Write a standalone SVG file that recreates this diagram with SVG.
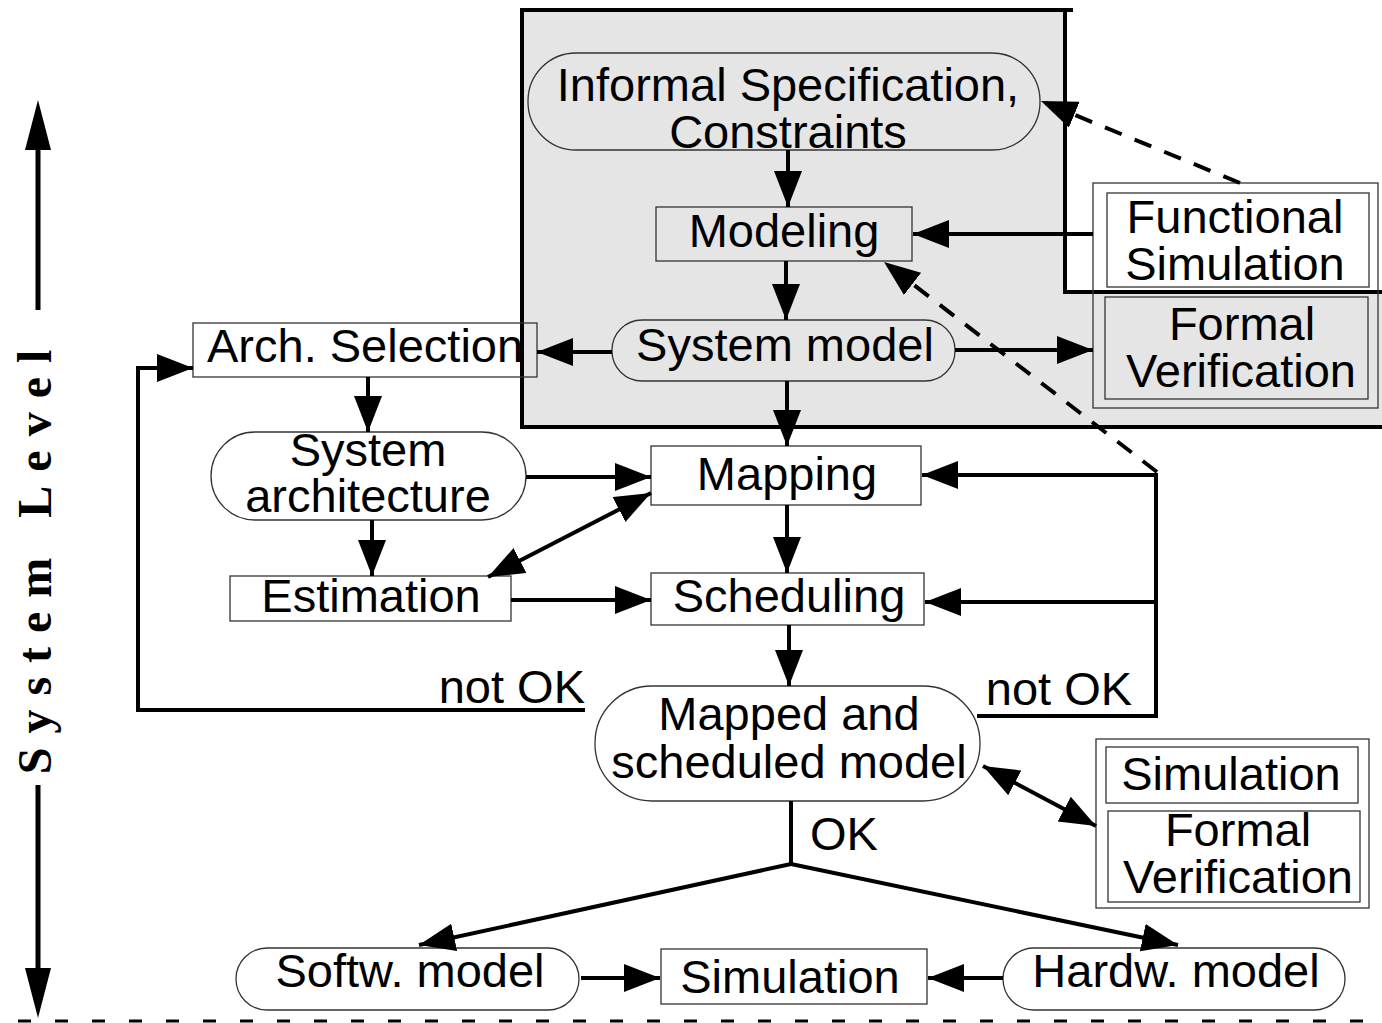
<svg xmlns="http://www.w3.org/2000/svg" width="1382" height="1023" viewBox="0 0 1382 1023">
<style>
.t{font-family:"Liberation Sans",Arial,sans-serif;font-size:47px;fill:#000;text-anchor:middle}
.box{fill:#fff;stroke:#333;stroke-width:1.3}
.gbox{fill:#e5e5e5;stroke:#333;stroke-width:1.3}
.nf{fill:none;stroke:#333;stroke-width:1.3}
.c{fill:none;stroke:#000;stroke-width:4}
.ca{fill:none;stroke:#000;stroke-width:4;marker-end:url(#ah)}
.cd{fill:none;stroke:#000;stroke-width:4;stroke-dasharray:18 14;marker-end:url(#ah)}
.cb{fill:none;stroke:#000;stroke-width:4;marker-end:url(#ah);marker-start:url(#ahs)}
</style>
<defs>
<marker id="ah" markerUnits="userSpaceOnUse" markerWidth="40" markerHeight="30" refX="36" refY="14" orient="auto"><path d="M0,0 L36,14 L0,28 z" fill="#000"/></marker>
<marker id="ahs" markerUnits="userSpaceOnUse" markerWidth="40" markerHeight="30" refX="36" refY="14" orient="auto-start-reverse"><path d="M0,0 L36,14 L0,28 z" fill="#000"/></marker>
</defs>
<rect width="1382" height="1023" fill="#fff"/>
<g id="system-region">
<path d="M522,10 H1065 V292 H1382 V427 H522 Z" fill="#e5e5e5"/>
<path d="M1073,10 H522 V427 H1382" class="c" stroke-width="5"/>
<path d="M1065,10 V292 H1382" class="c" stroke-width="5"/>
</g>
<g id="axis">
<line x1="38" y1="140" x2="38" y2="310" stroke="#000" stroke-width="5"/>
<path d="M25,150 L38,100 L51,150 z" fill="#000"/>
<line x1="38" y1="785" x2="38" y2="975" stroke="#000" stroke-width="5"/>
<path d="M25,968 L38,1018 L51,968 z" fill="#000"/>
<text transform="translate(51,555) rotate(-90)" font-family="'Liberation Serif','Times New Roman',serif" font-weight="bold" font-size="48" text-anchor="middle" letter-spacing="14">System Level</text>
</g>
<line id="level-boundary" x1="18" y1="1021" x2="1382" y2="1021" stroke="#000" stroke-width="3" stroke-dasharray="13 24"/>
<g id="n-informal">
<rect x="528" y="53" width="512" height="97" rx="48" class="gbox"/>
<text x="788" y="101" class="t">Informal Specification,</text>
<text x="788" y="148" class="t">Constraints</text>
</g>
<g id="n-modeling">
<rect x="656" y="207" width="256" height="54" class="gbox"/>
<text x="784" y="247" class="t">Modeling</text>
</g>
<g id="n-sysmodel">
<rect x="612" y="320" width="343" height="61" rx="30" class="gbox"/>
<text x="785" y="361" class="t">System model</text>
</g>
<g id="n-funcsim">
<rect x="1093" y="183" width="285" height="225" class="nf" stroke="#666"/>
<rect x="1107" y="193" width="262" height="94" class="box"/>
<text x="1235" y="233" class="t">Functional</text>
<text x="1235" y="280" class="t">Simulation</text>
</g>
<g id="n-formalver1">
<rect x="1105" y="297" width="263" height="102" class="gbox"/>
<text x="1242" y="340" class="t">Formal</text>
<text x="1241" y="387" class="t">Verification</text>
</g>
<g id="n-arch">
<rect x="193" y="323" width="344" height="54" class="nf"/>
<text x="207" y="362" class="t" style="text-anchor:start">Arch. Selection</text>
</g>
<g id="n-sysarch">
<rect x="211" y="432" width="315" height="88" rx="44" class="box"/>
<text x="368" y="466" class="t">System</text>
<text x="368" y="512" class="t">architecture</text>
</g>
<g id="n-estimation">
<rect x="230" y="576" width="281" height="45" class="box"/>
<text x="371" y="612" class="t">Estimation</text>
</g>
<g id="n-mapping">
<rect x="651" y="446" width="270" height="59" class="box"/>
<text x="787" y="490" class="t">Mapping</text>
</g>
<g id="n-scheduling">
<rect x="651" y="573" width="273" height="52" class="box"/>
<text x="789" y="612" class="t">Scheduling</text>
</g>
<g id="n-mapped">
<rect x="595" y="686" width="385" height="115" rx="57" class="box"/>
<text x="789" y="730" class="t">Mapped and</text>
<text x="789" y="778" class="t">scheduled model</text>
</g>
<g id="n-simfv">
<rect x="1096" y="739" width="273" height="169" class="nf" stroke="#666"/>
<rect x="1106" y="747" width="252" height="56" class="box"/>
<text x="1231" y="790" class="t">Simulation</text>
<rect x="1108" y="811" width="252" height="91" class="box"/>
<text x="1238" y="846" class="t">Formal</text>
<text x="1238" y="893" class="t">Verification</text>
</g>
<g id="n-softw">
<rect x="236" y="948" width="343" height="62" rx="31" class="box"/>
<text x="410" y="987" class="t">Softw. model</text>
</g>
<g id="n-sim">
<rect x="661" y="949" width="266" height="55" class="box"/>
<text x="790" y="993" class="t">Simulation</text>
</g>
<g id="n-hardw">
<rect x="1003" y="948" width="342" height="62" rx="31" class="box"/>
<text x="1176" y="987" class="t">Hardw. model</text>
</g>
<g id="connectors">
<path d="M788,150 V207" class="ca"/>
<path d="M1093,234 H913" class="ca"/>
<path d="M1240,183 L1041,101" class="cd"/>
<path d="M786,261 V320" class="ca"/>
<path d="M1157,472 L884,262" class="cd"/>
<path d="M612,352 H537" class="ca"/>
<path d="M955,350 H1093" class="ca"/>
<path d="M787,381 V446" class="ca"/>
<path d="M368,377 V432" class="ca"/>
<path d="M372,520 V576" class="ca"/>
<path d="M526,477 H651" class="ca"/>
<path d="M488,577 L651,493" class="cb"/>
<path d="M511,600 H651" class="ca"/>
<path d="M787,505 V573" class="ca"/>
<path d="M789,625 V686" class="ca"/>
<path d="M977,716 H1156 V475 H922" class="ca"/>
<path d="M1156,602 H925" class="ca"/>
<path d="M585,710 H138 V368 H193" class="ca"/>
<path d="M983,766 L1096,826" class="cb"/>
<path d="M791,801 V866" class="c"/>
<path d="M791,864 L419,945" class="ca"/>
<path d="M791,864 L1178,945" class="ca"/>
<path d="M581,978 H660" class="ca"/>
<path d="M1003,978 H928" class="ca"/>
<text x="585" y="703" class="t" style="text-anchor:end">not OK</text>
<text x="1059" y="705" class="t">not OK</text>
<text x="810" y="850" class="t" style="text-anchor:start">OK</text>
</g>
</svg>
